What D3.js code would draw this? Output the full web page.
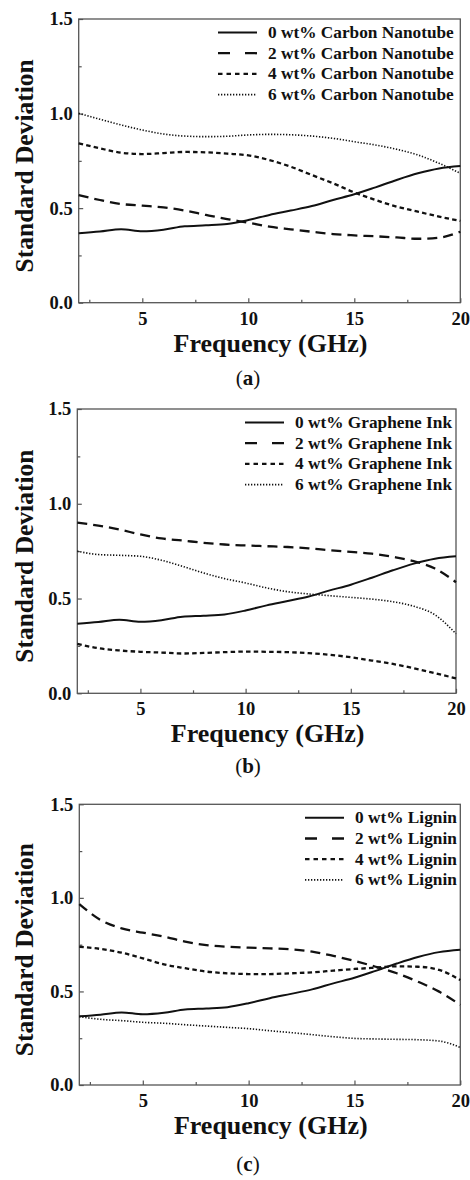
<!DOCTYPE html>
<html>
<head>
<meta charset="utf-8">
<script src="https://cdn.jsdelivr.net/npm/d3@7"></script>
<style>
  html, body { margin: 0; padding: 0; background: #fff; }
  svg { display: block; }
  .lbl { font-family: "Liberation Serif", "Times New Roman", serif; font-weight: bold; fill: #111; }
  .cap { font-family: "Liberation Serif", "Times New Roman", serif; fill: #111; }
</style>
</head>
<body>
<svg id="fig" width="470" height="1180"></svg>
<script>
// Frequency grid (GHz) shared by every series
const freqGHz = [2, 3, 4, 5, 6, 7, 8, 9, 10, 11, 12, 13, 14, 15, 16, 17, 18, 19, 20];

// Unfilled reference sample (0 wt%), common to all three panels
const pure0 = [0.367, 0.376, 0.388, 0.378, 0.386, 0.404, 0.409, 0.416, 0.437, 0.464, 0.487, 0.511, 0.543, 0.573, 0.610, 0.649, 0.684, 0.710, 0.723];

// (a) carbon nanotube loadings
const cnt2 = [0.569, 0.543, 0.522, 0.513, 0.504, 0.487, 0.464, 0.442, 0.423, 0.402, 0.388, 0.375, 0.363, 0.356, 0.351, 0.345, 0.338, 0.344, 0.375];
const cnt4 = [0.843, 0.816, 0.793, 0.786, 0.791, 0.797, 0.795, 0.788, 0.779, 0.754, 0.719, 0.675, 0.631, 0.583, 0.543, 0.508, 0.481, 0.455, 0.432];
const cnt6 = [1.001, 0.970, 0.940, 0.913, 0.892, 0.881, 0.878, 0.880, 0.887, 0.890, 0.888, 0.881, 0.869, 0.851, 0.834, 0.811, 0.781, 0.737, 0.684];

// (b) graphene ink loadings
const gi2 = [0.900, 0.885, 0.864, 0.838, 0.817, 0.806, 0.794, 0.785, 0.780, 0.776, 0.772, 0.765, 0.755, 0.746, 0.737, 0.720, 0.697, 0.658, 0.586];
const gi4 = [0.261, 0.238, 0.226, 0.219, 0.215, 0.210, 0.213, 0.217, 0.220, 0.219, 0.217, 0.212, 0.203, 0.190, 0.173, 0.155, 0.132, 0.106, 0.079];
const gi6 = [0.750, 0.732, 0.728, 0.723, 0.702, 0.670, 0.635, 0.605, 0.582, 0.556, 0.536, 0.524, 0.515, 0.506, 0.497, 0.483, 0.459, 0.414, 0.314];

// (c) lignin loadings
const lig2 = [0.967, 0.882, 0.837, 0.814, 0.793, 0.766, 0.748, 0.739, 0.734, 0.730, 0.725, 0.713, 0.690, 0.663, 0.632, 0.597, 0.552, 0.499, 0.428];
const lig4 = [0.739, 0.727, 0.707, 0.677, 0.645, 0.624, 0.606, 0.597, 0.593, 0.593, 0.597, 0.602, 0.611, 0.620, 0.627, 0.634, 0.632, 0.615, 0.561];
const lig6 = [0.365, 0.351, 0.344, 0.335, 0.330, 0.322, 0.315, 0.308, 0.301, 0.290, 0.280, 0.269, 0.258, 0.249, 0.246, 0.244, 0.242, 0.235, 0.201];

// Legend labels and axis ticks
const loadings = ["0 wt%", "2 wt%", "4 wt%", "6 wt%"];
const fillers = ["Carbon Nanotube", "Graphene Ink", "Lignin"];
const panelLetters = ["a", "b", "c"];
const xMajor = [5, 10, 15, 20];
const xMinor = [2.5, 7.5, 12.5, 17.5];
const yMajor = [0, 0.5, 1.0, 1.5];
const yMinor = [0.25, 0.75, 1.25];

const seriesByPanel = [
  [pure0, cnt2, cnt4, cnt6],
  [pure0, gi2, gi4, gi6],
  [pure0, lig2, lig4, lig6]
];

// Line styles per loading (solid, long dash, short dash, dotted)
const styles = [
  { w: 2.0, dash: null,      legDash: null },
  { w: 2.3, dash: "10,6",    legDash: "12,15" },
  { w: 2.3, dash: "4.5,3.2", legDash: "4.5,4" },
  { w: 1.6, dash: "1.3,1.7", legDash: "1.3,1.7" }
];

// Panel frames
const frames = [
  { l: 78.7, r: 460.3, t: 19,    b: 302.7, legText: 268, capY: 385 },
  { l: 77.3, r: 456.0, t: 409,   b: 693.3, legText: 295, capY: 773 },
  { l: 79.3, r: 460.3, t: 804.3, b: 1085,  legText: 355, capY: 1171 }
];

const svg = d3.select("#fig");
const frameColor = "#555";

frames.forEach((f, pi) => {
  const x = d3.scaleLinear().domain([2, 20]).range([f.l, f.r]);
  const y = d3.scaleLinear().domain([0, 1.5]).range([f.b, f.t]);
  const g = svg.append("g");

  // Inward ticks on the bottom and left edges
  const xAxis = g.append("g").attr("transform", `translate(0,${f.b})`)
    .call(d3.axisBottom(x).tickValues(xMajor).tickSize(-4.5).tickFormat(d3.format("d")));
  xAxis.select(".domain").remove();
  xAxis.selectAll(".tick line").attr("stroke", frameColor).attr("stroke-width", 1.2);
  xAxis.selectAll(".tick text").attr("class", "lbl").style("font-size", "18.5px").attr("dy", "0.71em").attr("y", 9);

  const xMin = g.append("g").attr("transform", `translate(0,${f.b})`)
    .call(d3.axisBottom(x).tickValues(xMinor).tickSize(-3).tickFormat(""));
  xMin.select(".domain").remove();
  xMin.selectAll(".tick line").attr("stroke", frameColor).attr("stroke-width", 1.2);

  const yAxis = g.append("g").attr("transform", `translate(${f.l},0)`)
    .call(d3.axisLeft(y).tickValues(yMajor).tickSize(-4.5).tickFormat(d3.format(".1f")));
  yAxis.select(".domain").remove();
  yAxis.selectAll(".tick line").attr("stroke", frameColor).attr("stroke-width", 1.2);
  yAxis.selectAll(".tick text").attr("class", "lbl").style("font-size", "18.5px").attr("x", -6);

  const yMin = g.append("g").attr("transform", `translate(${f.l},0)`)
    .call(d3.axisLeft(y).tickValues(yMinor).tickSize(-3).tickFormat(""));
  yMin.select(".domain").remove();
  yMin.selectAll(".tick line").attr("stroke", frameColor).attr("stroke-width", 1.2);

  // Plot frame
  g.append("rect")
    .attr("x", f.l).attr("y", f.t)
    .attr("width", f.r - f.l).attr("height", f.b - f.t)
    .attr("fill", "none").attr("stroke", frameColor).attr("stroke-width", 1.3);

  // Curves
  const line = d3.line()
    .x((d, i) => x(freqGHz[i]))
    .y(d => y(d))
    .curve(d3.curveMonotoneX);

  seriesByPanel[pi].forEach((vals, si) => {
    const s = styles[si];
    g.append("path")
      .datum(vals)
      .attr("d", line)
      .attr("fill", "none")
      .attr("stroke", "#111")
      .attr("stroke-width", s.w)
      .attr("stroke-dasharray", s.dash);
  });

  // Legend
  const rowY0 = f.t + 13.5, rowStep = 20.7;
  loadings.forEach((ld, si) => {
    const s = styles[si];
    const cy = rowY0 + si * rowStep;
    g.append("line")
      .attr("x1", f.legText - 50).attr("x2", f.legText - 11)
      .attr("y1", cy).attr("y2", cy)
      .attr("stroke", "#111").attr("stroke-width", s.w)
      .attr("stroke-dasharray", s.legDash);
    g.append("text").attr("class", "lbl")
      .attr("x", f.legText).attr("y", cy + 5.5)
      .style("font-size", "17.3px")
      .text(`${ld} ${fillers[pi]}`);
  });

  // Axis titles
  g.append("text").attr("class", "lbl")
    .attr("x", (f.l + f.r) / 2 + 1).attr("y", f.b + 49)
    .attr("text-anchor", "middle")
    .style("font-size", "26px")
    .text("Frequency (GHz)");

  g.append("text").attr("class", "lbl")
    .attr("transform", `translate(33,${(f.t + f.b) / 2 + 5}) rotate(-90)`)
    .attr("text-anchor", "middle")
    .style("font-size", "25.5px")
    .text("Standard Deviation");

  // Panel caption
  const cap = g.append("text").attr("class", "cap")
    .attr("x", 248).attr("y", f.capY)
    .attr("text-anchor", "middle")
    .style("font-size", "21px");
  cap.append("tspan").text("(");
  cap.append("tspan").style("font-weight", "bold").text(panelLetters[pi]);
  cap.append("tspan").text(")");
});
</script>
</body>
</html>
